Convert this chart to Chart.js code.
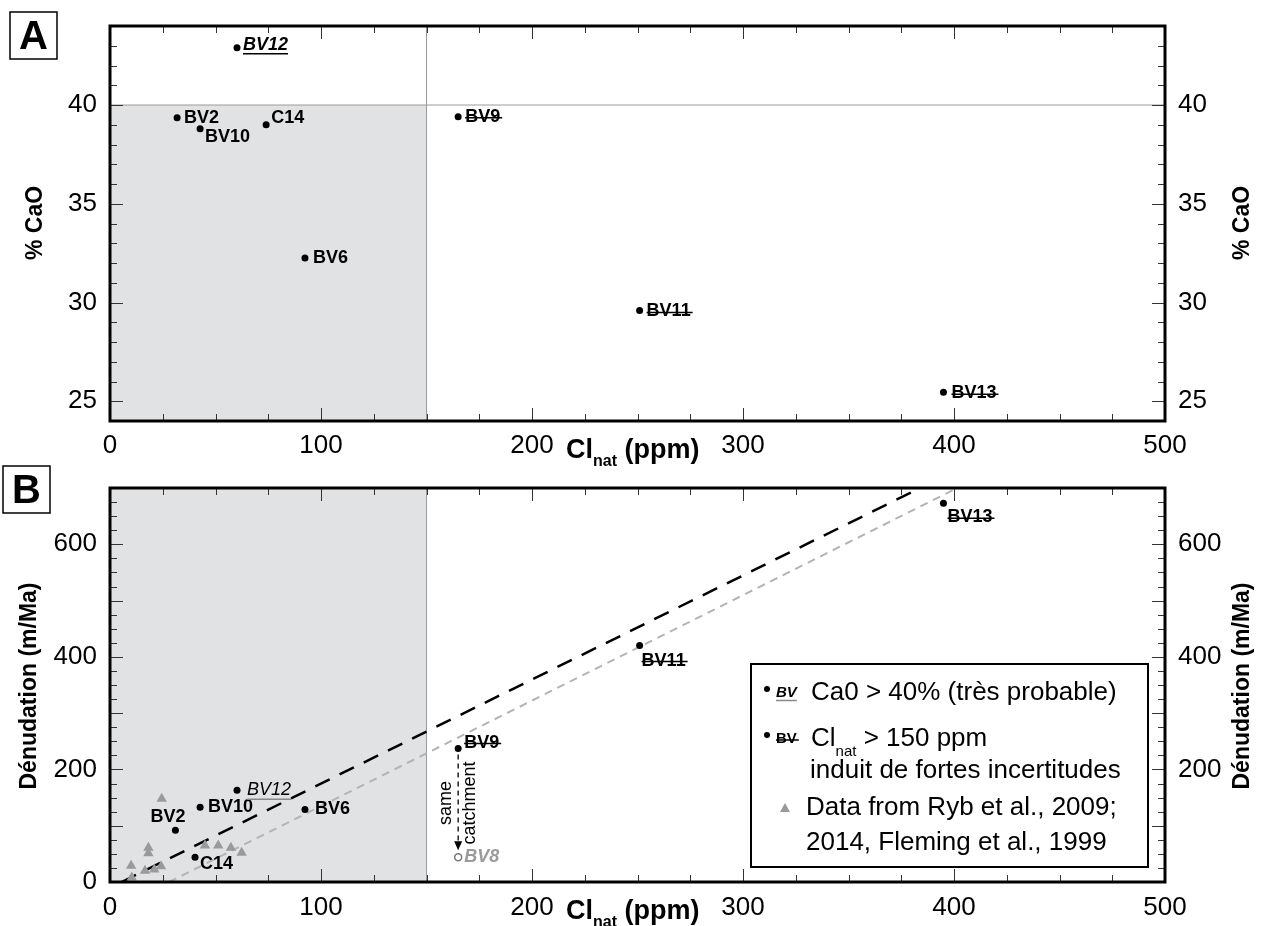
<!DOCTYPE html>
<html>
<head>
<meta charset="utf-8">
<script src="https://cdn.jsdelivr.net/npm/chart.js@4.4.1/dist/chart.umd.min.js"></script>
<style>
  html, body { margin: 0; padding: 0; background: #fff; }
  #wrap { position: relative; width: 1262px; height: 926px; }
  canvas { position: absolute; left: 0; top: 0; }
</style>
</head>
<body>
<div id="wrap">
  <canvas id="chartA" width="1262" height="926"></canvas>
  <canvas id="chartB" width="1262" height="926"></canvas>
</div>
<script>
// tick labels
const xTicks = [0, 100, 200, 300, 400, 500];
const caoTicks = [25, 30, 35, 40];
const denTicksLeft = [0, 200, 400, 600];
const denTicksRight = [200, 400, 600];

// panel A : %CaO vs Cl nat
const sitesA = ["BV2", "BV10", "BV12", "C14", "BV6", "BV9", "BV11", "BV13"];
const clA = [31.8, 42.7, 60.2, 74, 92.4, 165, 251, 395];
const caoA = [39.35, 38.8, 42.9, 39.0, 32.25, 39.4, 29.6, 25.45];

// panel B : denudation vs Cl nat
const sitesB = ["BV2", "BV10", "BV12", "C14", "BV6", "BV9", "BV11", "BV13"];
const clB = [31, 42.7, 60.2, 40.3, 92.4, 165, 251, 395];
const denB = [92, 133, 163, 44, 129, 237, 420, 673];

// BV8, same catchment as BV9
const bv8Cl = [165];
const bv8Den = [44];

// Ryb et al. 2009, 2014 / Fleming et al. 1999
const rybCl = [24.5, 18.2, 18.2, 10, 16.6, 21, 24.2, 10.3, 45, 51.3, 57.3, 62.4];
const rybDen = [148, 61, 51, 29, 20, 22, 28, 8, 65, 65, 61, 52];

// regression lines (end points)
const fitAllCl = [5.5, 384];
const fitAllDen = [0, 700];
const fitRybCl = [28, 400];
const fitRybDen = [0, 697];

// thresholds
const clLimit = 150;
const caoLimit = 40;

const FONT = '"Liberation Sans", Arial, Helvetica, sans-serif';
const SHADE = '#e1e2e4';
const REFLINE = '#9a9a9a';

// label placement / style per site (pixels offset from the dot)
const labelA = {
  BV2: { dx: 7, dy: 0 },
  BV10: { dx: 5, dy: 8 },
  BV12: { dx: 6, dy: -3, italic: true, under: '#000' },
  C14: { dx: 5, dy: -7 },
  BV6: { dx: 8, dy: 0 },
  BV9: { dx: 7, dy: 0, strike: true },
  BV11: { dx: 7, dy: 1, strike: true },
  BV13: { dx: 8, dy: 1, strike: true }
};
const labelB = {
  BV2: { dx: -25, dy: -13 },
  BV10: { dx: 8, dy: 0 },
  BV12: { dx: 10, dy: 0, italic: true, light: true, under: '#888' },
  C14: { dx: 5, dy: 7 },
  BV6: { dx: 10, dy: 0 },
  BV9: { dx: 6, dy: -6, strike: true },
  BV11: { dx: 2, dy: 15, strike: true },
  BV13: { dx: 4, dy: 14, strike: true },
  BV8: { dx: 6, dy: 0, italic: true, color: '#9a9a9a' }
};

function xScale(pad) {
  return {
    type: 'linear', min: 0, max: 500,
    grid: { display: false }, border: { display: false },
    afterBuildTicks: s => { s.ticks = xTicks.map(v => ({ value: v })); },
    afterFit: s => { s.height = 40; },
    ticks: { padding: pad, color: '#000', autoSkip: false, maxRotation: 0, font: { family: FONT, size: 26 } }
  };
}

function yScale(pos, min, max, ticks, width) {
  return {
    type: 'linear', position: pos, min: min, max: max,
    grid: { display: false }, border: { display: false },
    afterBuildTicks: s => { s.ticks = ticks.map(v => ({ value: v })); },
    afterFit: s => { s.width = width; },
    ticks: { padding: 5, color: '#000', font: { family: FONT, size: 26 } }
  };
}

function drawFrame(chart, yMin, yMax, yMinor, yMajor) {
  const { ctx, chartArea: a } = chart;
  const x = chart.scales.x, y = chart.scales.y;
  ctx.save();
  ctx.strokeStyle = '#333';
  ctx.lineWidth = 1;
  ctx.beginPath();
  for (let v = 0; v <= 500; v += 25) {
    const px = Math.round(x.getPixelForValue(v)) + 0.5;
    const len = v % 100 === 0 ? 13 : 7;
    ctx.moveTo(px, a.bottom); ctx.lineTo(px, a.bottom - len);
    ctx.moveTo(px, a.top); ctx.lineTo(px, a.top + len);
  }
  for (let v = yMin; v <= yMax; v += yMinor) {
    const py = Math.round(y.getPixelForValue(v)) + 0.5;
    const len = v % yMajor === 0 ? 13 : 7;
    ctx.moveTo(a.left, py); ctx.lineTo(a.left + len, py);
    ctx.moveTo(a.right, py); ctx.lineTo(a.right - len, py);
  }
  ctx.stroke();
  ctx.strokeStyle = '#000';
  ctx.lineWidth = 3;
  ctx.strokeRect(a.left, a.top, a.right - a.left, a.bottom - a.top);
  ctx.restore();
}

function text(ctx, str, x, y, font, color, align) {
  ctx.font = font;
  ctx.fillStyle = color || '#000';
  ctx.textAlign = align || 'left';
  ctx.textBaseline = 'middle';
  ctx.fillText(str, x, y);
  return ctx.measureText(str).width;
}

function siteLabel(ctx, str, x, y, st, size) {
  const font = (st.italic ? 'italic ' : '') + (st.light ? '' : 'bold ') + size + 'px ' + FONT;
  const color = st.color || '#000';
  const w = text(ctx, str, x + st.dx, y + st.dy, font, color);
  ctx.save();
  ctx.lineWidth = 1.5;
  if (st.strike) {
    ctx.strokeStyle = color;
    ctx.beginPath();
    ctx.moveTo(x + st.dx, y + st.dy + 1);
    ctx.lineTo(x + st.dx + w + 2, y + st.dy + 1);
    ctx.stroke();
  }
  if (st.under) {
    ctx.strokeStyle = st.under;
    ctx.beginPath();
    ctx.moveTo(x + st.dx, y + st.dy + size * 0.5);
    ctx.lineTo(x + st.dx + w, y + st.dy + size * 0.5);
    ctx.stroke();
  }
  ctx.restore();
}

function vTitle(ctx, str, x, y) {
  ctx.save();
  ctx.translate(x, y);
  ctx.rotate(-Math.PI / 2);
  text(ctx, str, 0, 0, 'bold 23px ' + FONT, '#000', 'center');
  ctx.restore();
}

function xTitle(ctx, x, y) {
  let w = text(ctx, 'Cl', x, y, 'bold 27px ' + FONT);
  w += text(ctx, 'nat', x + w, y + 11, 'bold 16px ' + FONT);
  text(ctx, ' (ppm)', x + w, y, 'bold 27px ' + FONT);
}

function panelLetter(ctx, letter, x, y, s) {
  ctx.save();
  ctx.strokeStyle = '#000';
  ctx.lineWidth = 1.5;
  ctx.strokeRect(x, y, s, s);
  ctx.restore();
  text(ctx, letter, x + s / 2, y + s / 2 + 2, 'bold 40px ' + FONT, '#000', 'center');
}

const panelA = {
  id: 'panelA',
  beforeDatasetsDraw(chart) {
    const { ctx, chartArea: a, scales: { x, y } } = chart;
    const xl = x.getPixelForValue(clLimit), yl = y.getPixelForValue(caoLimit);
    ctx.save();
    ctx.fillStyle = SHADE;
    ctx.fillRect(a.left, yl, xl - a.left, a.bottom - yl);
    ctx.strokeStyle = REFLINE;
    ctx.lineWidth = 1;
    ctx.beginPath();
    ctx.moveTo(xl, a.top); ctx.lineTo(xl, a.bottom);
    ctx.moveTo(a.left, yl); ctx.lineTo(a.right, yl);
    ctx.stroke();
    ctx.restore();
  },
  afterDraw(chart) {
    const { ctx, scales: { x, y } } = chart;
    drawFrame(chart, 24, 44, 1, 5);
    sitesA.forEach((s, i) => {
      siteLabel(ctx, s, x.getPixelForValue(clA[i]), y.getPixelForValue(caoA[i]), labelA[s], 18);
    });
    vTitle(ctx, '% CaO', 36, 223);
    vTitle(ctx, '% CaO', 1243, 223);
    xTitle(ctx, 566, 451);
    panelLetter(ctx, 'A', 10, 12, 47);
  }
};

const panelB = {
  id: 'panelB',
  beforeDatasetsDraw(chart) {
    const { ctx, chartArea: a, scales: { x } } = chart;
    const xl = x.getPixelForValue(clLimit);
    ctx.save();
    ctx.fillStyle = SHADE;
    ctx.fillRect(a.left, a.top, xl - a.left, a.bottom - a.top);
    ctx.strokeStyle = REFLINE;
    ctx.lineWidth = 1;
    ctx.beginPath();
    ctx.moveTo(xl, a.top); ctx.lineTo(xl, a.bottom);
    ctx.stroke();
    ctx.restore();
  },
  afterDraw(chart) {
    const { ctx, scales: { x, y } } = chart;
    drawFrame(chart, 0, 700, 25, 100);
    sitesB.forEach((s, i) => {
      siteLabel(ctx, s, x.getPixelForValue(clB[i]), y.getPixelForValue(denB[i]), labelB[s], 18);
    });
    const px8 = x.getPixelForValue(bv8Cl[0]), py8 = y.getPixelForValue(bv8Den[0]);
    siteLabel(ctx, 'BV8', px8, py8, labelB.BV8, 18);

    // "same catchment" arrow from BV9 to BV8
    const py9 = y.getPixelForValue(denB[sitesB.indexOf('BV9')]);
    ctx.save();
    ctx.strokeStyle = '#000';
    ctx.lineWidth = 1.3;
    ctx.setLineDash([5, 4]);
    ctx.beginPath();
    ctx.moveTo(px8, py9 + 6);
    ctx.lineTo(px8, py8 - 14);
    ctx.stroke();
    ctx.setLineDash([]);
    ctx.fillStyle = '#000';
    ctx.beginPath();
    ctx.moveTo(px8 - 4, py8 - 16);
    ctx.lineTo(px8 + 4, py8 - 16);
    ctx.lineTo(px8, py8 - 7);
    ctx.closePath();
    ctx.fill();
    ctx.translate(px8, (py9 + py8) / 2);
    ctx.rotate(-Math.PI / 2);
    text(ctx, 'same', 0, -12, '18px ' + FONT, '#000', 'center');
    text(ctx, 'catchment', 0, 12, '18px ' + FONT, '#000', 'center');
    ctx.restore();

    // legend box
    ctx.save();
    ctx.fillStyle = '#fff';
    ctx.fillRect(751, 664, 397, 203);
    ctx.strokeStyle = '#000';
    ctx.lineWidth = 2;
    ctx.strokeRect(751, 664, 397, 203);
    ctx.fillStyle = '#000';
    ctx.beginPath(); ctx.arc(767, 689, 3, 0, Math.PI * 2); ctx.fill();
    ctx.beginPath(); ctx.arc(767, 735, 3, 0, Math.PI * 2); ctx.fill();
    ctx.fillStyle = '#9a9a9a';
    ctx.beginPath(); ctx.moveTo(780, 812); ctx.lineTo(790, 812); ctx.lineTo(785, 803); ctx.closePath(); ctx.fill();
    ctx.restore();
    siteLabel(ctx, 'BV', 776, 693, { dx: 0, dy: 0, italic: true, under: '#888' }, 15);
    siteLabel(ctx, 'BV', 776, 739, { dx: 0, dy: 0, strike: true }, 15);
    const f = '26px ' + FONT;
    text(ctx, 'Ca0 > 40% (très probable)', 811, 693, f);
    let w = text(ctx, 'Cl', 811, 739, f);
    w += text(ctx, 'nat', 811 + w, 752, '15px ' + FONT);
    text(ctx, ' > 150 ppm', 811 + w, 739, f);
    text(ctx, 'induit de fortes incertitudes', 810, 771, f);
    text(ctx, 'Data from Ryb et al., 2009;', 806, 808, f);
    text(ctx, '2014, Fleming et al., 1999', 806, 843, f);

    vTitle(ctx, 'Dénudation (m/Ma)', 30, 686);
    vTitle(ctx, 'Dénudation (m/Ma)', 1243, 686);
    xTitle(ctx, 566, 912);
    panelLetter(ctx, 'B', 3, 466, 47);
  }
};

const common = {
  responsive: false,
  animation: false,
  events: [],
  plugins: { legend: { display: false }, tooltip: { enabled: false } }
};

new Chart(document.getElementById('chartA'), {
  type: 'scatter',
  data: {
    datasets: [{
      data: clA.map((v, i) => ({ x: v, y: caoA[i] })),
      pointRadius: 3.5, backgroundColor: '#000', borderWidth: 0
    }]
  },
  options: Object.assign({}, common, {
    layout: { padding: { top: 26, bottom: 465, left: 0, right: 0 } },
    scales: {
      x: xScale(1),
      y: yScale('left', 24, 44, caoTicks, 110),
      y2: yScale('right', 24, 44, caoTicks, 97)
    }
  }),
  plugins: [panelA]
});

new Chart(document.getElementById('chartB'), {
  type: 'scatter',
  data: {
    datasets: [
      {
        data: clB.map((v, i) => ({ x: v, y: denB[i] })),
        pointRadius: 3.5, backgroundColor: '#000', borderWidth: 0, order: 0
      },
      {
        data: bv8Cl.map((v, i) => ({ x: v, y: bv8Den[i] })),
        pointRadius: 3.5, backgroundColor: '#fff', borderColor: '#777', borderWidth: 1.5, order: 0
      },
      {
        data: rybCl.map((v, i) => ({ x: v, y: rybDen[i] })),
        pointStyle: 'triangle', pointRadius: 6, backgroundColor: '#9a9a9a', borderWidth: 0, order: 1
      },
      {
        type: 'line',
        data: fitRybCl.map((v, i) => ({ x: v, y: fitRybDen[i] })),
        borderColor: '#b4b4b4', borderWidth: 2, borderDash: [8, 6], pointRadius: 0, fill: false, order: 2
      },
      {
        type: 'line',
        data: fitAllCl.map((v, i) => ({ x: v, y: fitAllDen[i] })),
        borderColor: '#000', borderWidth: 2.5, borderDash: [16, 11], pointRadius: 0, fill: false, order: 2
      }
    ]
  },
  options: Object.assign({}, common, {
    layout: { padding: { top: 488, bottom: 4, left: 0, right: 0 } },
    scales: {
      x: xScale(2),
      y: yScale('left', 0, 700, denTicksLeft, 110),
      y2: yScale('right', 0, 700, denTicksRight, 97)
    }
  }),
  plugins: [panelB]
});
</script>
</body>
</html>
